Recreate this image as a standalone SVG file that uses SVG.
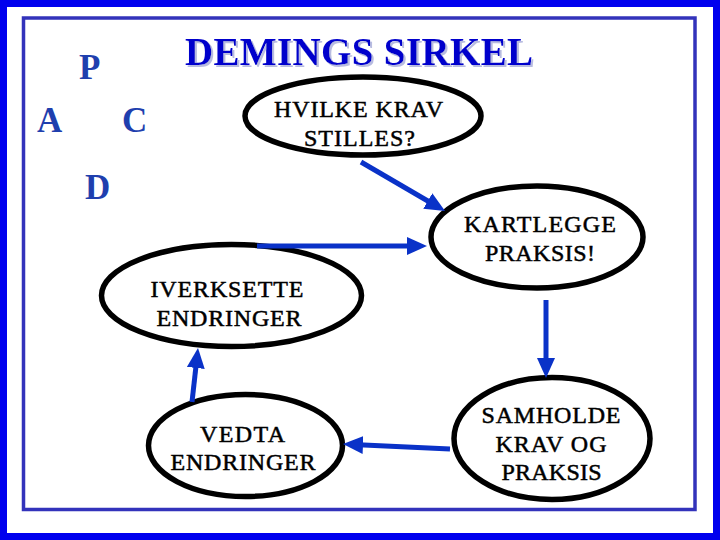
<svg xmlns="http://www.w3.org/2000/svg" width="720" height="540" viewBox="0 0 720 540">
<style>
.node ellipse{fill:#fff;stroke:#000;stroke-width:5.5}
.lbl{font-family:"Liberation Serif","Times New Roman",serif;font-size:24px;fill:#000;stroke:#000;stroke-width:0.5;text-anchor:middle}
.pdca{font-family:"Liberation Serif","Times New Roman",serif;font-size:35px;font-weight:bold;fill:#1f3fae}
.title{font-family:"Liberation Serif","Times New Roman",serif;font-size:39px;font-weight:bold}
.conn line{stroke:#0a32c8;stroke-width:5;fill:none}
</style>
<defs>
<marker id="ah" markerUnits="userSpaceOnUse" markerWidth="20" markerHeight="18" refX="10" refY="9" orient="auto" viewBox="0 0 20 18">
<path d="M0,0 L20,9 L0,18 z" fill="#0a32c8"/>
</marker>
<filter id="shadow" x="-5%" y="-20%" width="110%" height="140%">
<feOffset in="SourceAlpha" dx="2" dy="2" result="off"/>
<feFlood flood-color="#b8bce0"/>
<feComposite in2="off" operator="in" result="sh"/>
<feMerge><feMergeNode in="sh"/><feMergeNode in="SourceGraphic"/></feMerge>
</filter>
</defs>
<rect x="0" y="0" width="720" height="540" fill="#fff"/>
<rect x="3.5" y="3.5" width="713" height="533" fill="none" stroke="#0000ee" stroke-width="7"/>
<rect x="23.5" y="18" width="671.5" height="491.5" fill="none" stroke="#3333bb" stroke-width="3.5"/>
<g id="title">
<text class="title" x="185" y="65" fill="#0000cc" textLength="348" filter="url(#shadow)">DEMINGS SIRKEL</text>
</g>
<g id="pdca">
<text class="pdca" x="79" y="79">P</text>
<text class="pdca" x="37" y="132">A</text>
<text class="pdca" x="122" y="132">C</text>
<text class="pdca" x="85" y="199">D</text>
</g>
<g id="n1" class="node">
<ellipse cx="363" cy="116" rx="118" ry="39"/>
<text class="lbl" x="358.5" y="117" textLength="169">HVILKE KRAV</text>
<text class="lbl" x="359.5" y="146" textLength="111">STILLES?</text>
</g>
<g id="n2" class="node">
<ellipse cx="537" cy="237" rx="106" ry="51"/>
<text class="lbl" x="540" y="232" textLength="152">KARTLEGGE</text>
<text class="lbl" x="540" y="261" textLength="110">PRAKSIS!</text>
</g>
<g id="n3" class="node">
<ellipse cx="552" cy="438.5" rx="98" ry="61"/>
<text class="lbl" x="551" y="423" textLength="139">SAMHOLDE</text>
<text class="lbl" x="551" y="452" textLength="111">KRAV OG</text>
<text class="lbl" x="551.5" y="479.5" textLength="100">PRAKSIS</text>
</g>
<g id="n4" class="node">
<ellipse cx="245.5" cy="445.5" rx="97" ry="51"/>
<text class="lbl" x="242.5" y="442" textLength="85">VEDTA</text>
<text class="lbl" x="243" y="470" textLength="145">ENDRINGER</text>
</g>
<g id="n5" class="node">
<ellipse cx="231.5" cy="295.5" rx="130" ry="51"/>
<text class="lbl" x="227" y="297" textLength="153">IVERKSETTE</text>
<text class="lbl" x="229" y="326" textLength="145">ENDRINGER</text>
</g>
<g id="connectors" class="conn">
<line x1="361" y1="162" x2="436.4" y2="206" marker-end="url(#ah)"/>
<line x1="546" y1="300" x2="546" y2="368" marker-end="url(#ah)"/>
<line x1="450" y1="449" x2="353" y2="444.5" marker-end="url(#ah)"/>
<line x1="192" y1="402" x2="196.9" y2="358" marker-end="url(#ah)"/>
<line x1="257" y1="246" x2="417" y2="246" marker-end="url(#ah)"/>
</g>
</svg>
